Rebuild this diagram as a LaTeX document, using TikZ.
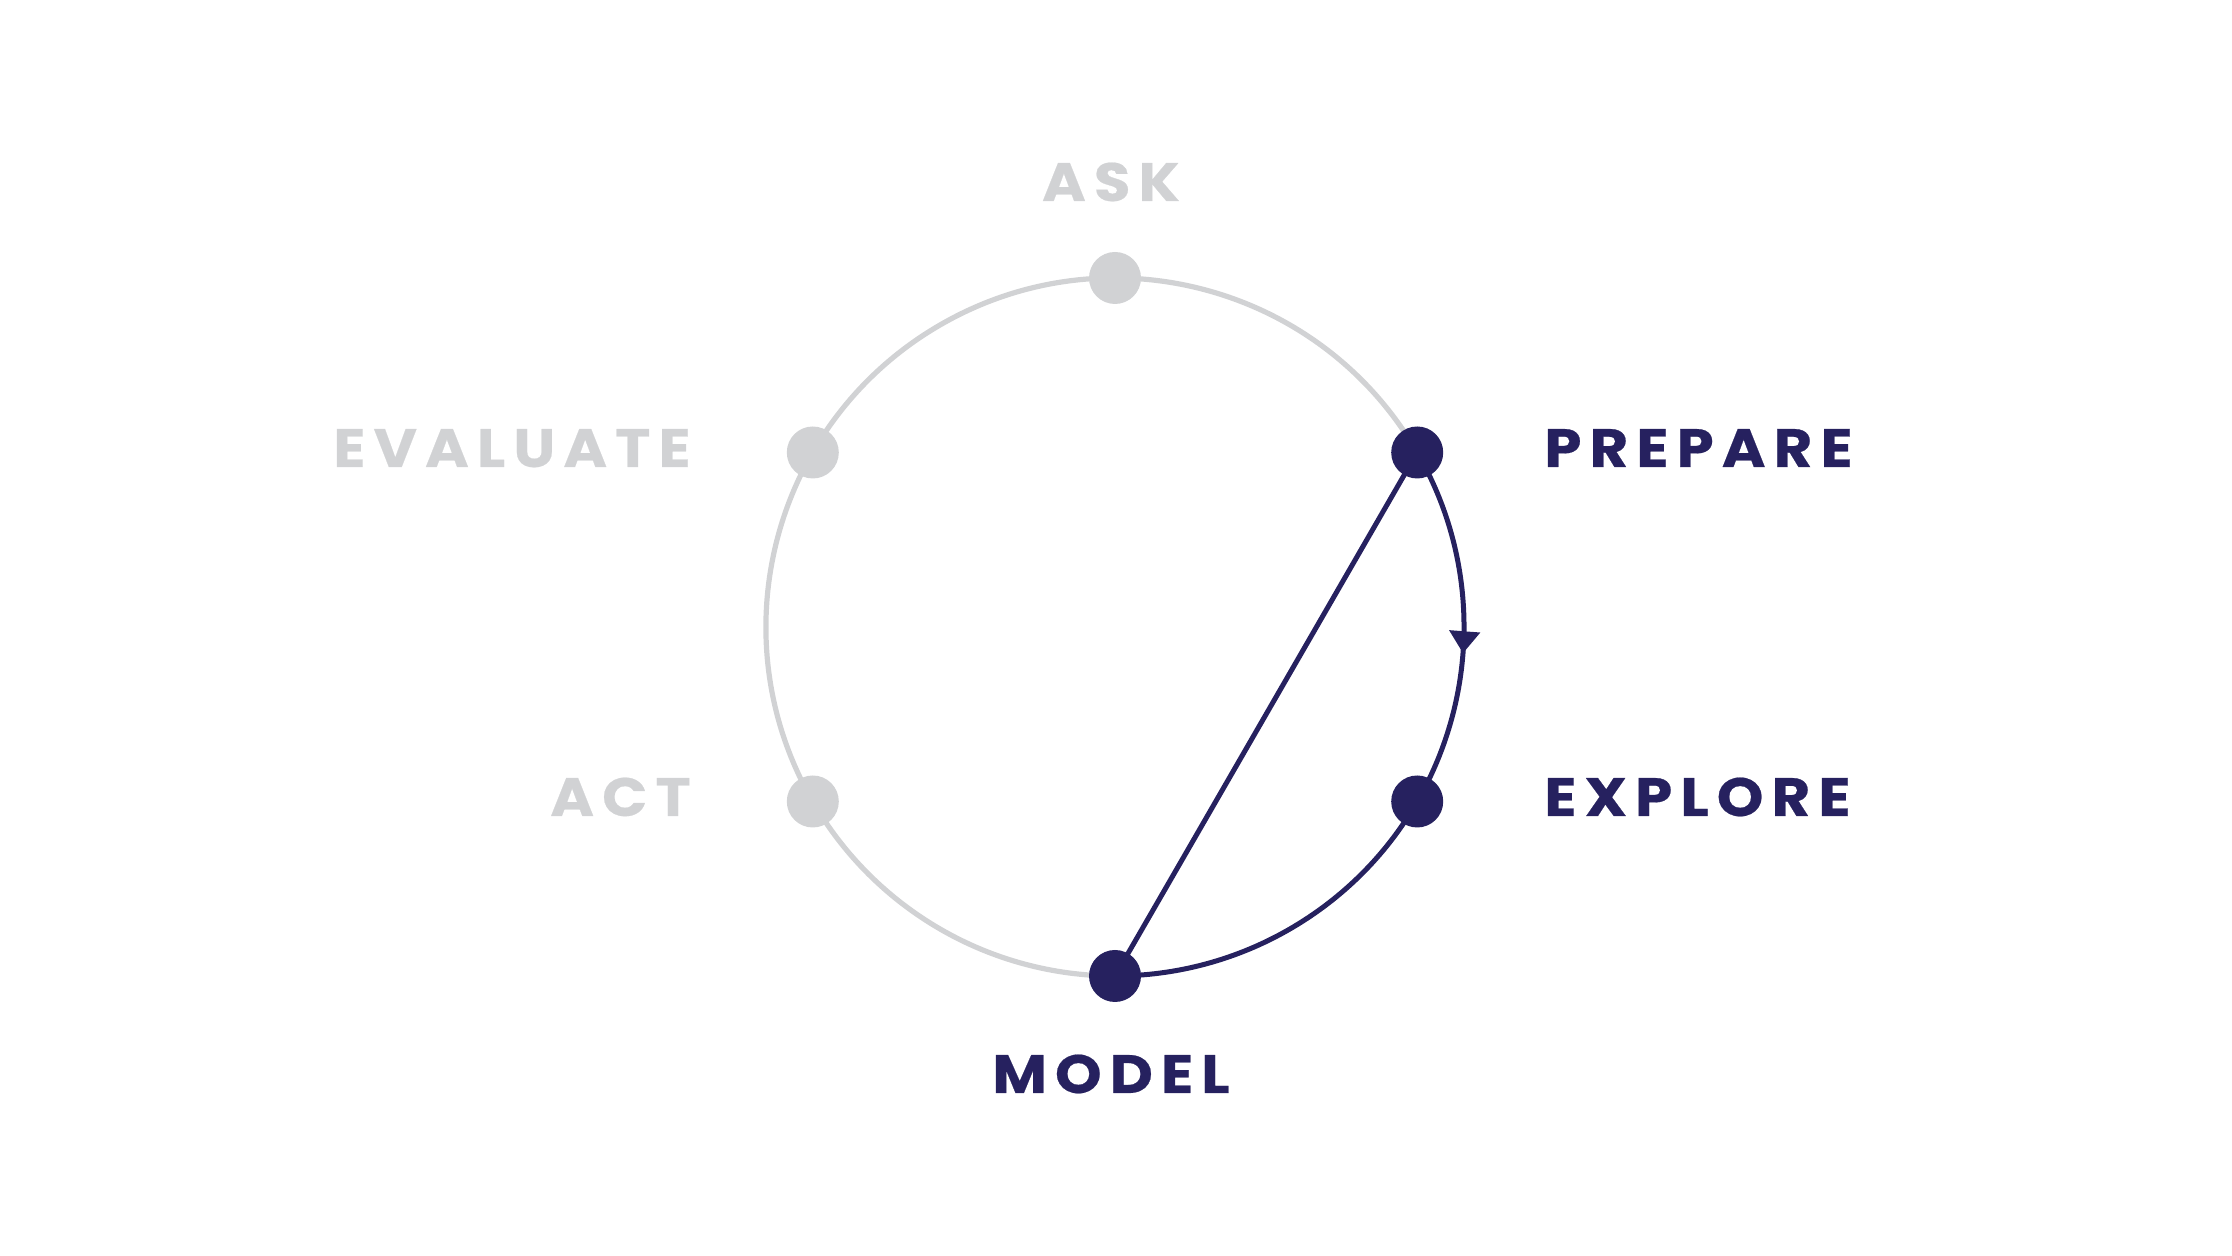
\documentclass[tikz,border=0pt]{standalone}
\usepackage{fontspec}
\usetikzlibrary{arrows.meta,decorations.markings,backgrounds}
\newfontfamily\labfont{Poppins}[LetterSpace=15,FakeStretch=1.1,FakeBold=0.4]
\definecolor{navy}{HTML}{26215F}
\definecolor{lightgray}{HTML}{D1D2D4}
\tikzset{
  x=0.5pt, y=0.5pt,
  dotnode/.style={circle, inner sep=0pt, minimum size=26pt, draw=none},
  activedot/.style={dotnode, fill=navy},
  idledot/.style={dotnode, fill=lightgray},
  grayline/.style={draw=lightgray, line width=2.6pt},
  navyline/.style={draw=navy, line width=2.5pt},
  lab/.style={inner sep=0pt, font=\labfont\bfseries\fontsize{27}{30}\selectfont},
  activelab/.style={lab, text=navy},
  idlelab/.style={lab, text=lightgray},
  flowarrow/.style={postaction={decorate}, decoration={markings,
    mark=at position 0.286 with {\arrow{Triangle[width=15pt,length=11pt]}}}},
}
\begin{document}
\begin{tikzpicture}
\useasboundingbox (0,0) rectangle (2232,1256);
% circle centre (1115,629), radius 349
\node[idledot]   (ask)      at (1115,978)     {};
\node[activedot] (prepare)  at (1417.2,803.5) {};
\node[activedot] (explore)  at (1417.2,454.5) {};
\node[activedot] (model)    at (1115,280)     {};
\node[idledot]   (act)      at (812.8,454.5)  {};
\node[idledot]   (evaluate) at (812.8,803.5)  {};
% labels
\node[idlelab, anchor=base]        (task)  at (1111,1055) {ASK};
\node[activelab, anchor=base west] (tprep) at (1544,789)  {PREPARE};
\node[activelab, anchor=base west] (texp)  at (1544,440)  {EXPLORE};
\node[activelab, anchor=base]      (tmod)  at (1111,163)  {MODEL};
\node[idlelab, anchor=base east]   (tact)  at (691,440)   {ACT};
\node[idlelab, anchor=base east]   (teval) at (691,789)   {EVALUATE};
% connectors
\begin{scope}[on background layer]
  \draw[grayline] (prepare.center) arc[start angle=30, end angle=270, radius=349];
  \draw[navyline, flowarrow, navy] (prepare.center) arc[start angle=30, end angle=-90, radius=349];
  \draw[navyline] (prepare.center) -- (model.center);
\end{scope}
\end{tikzpicture}
\end{document}
